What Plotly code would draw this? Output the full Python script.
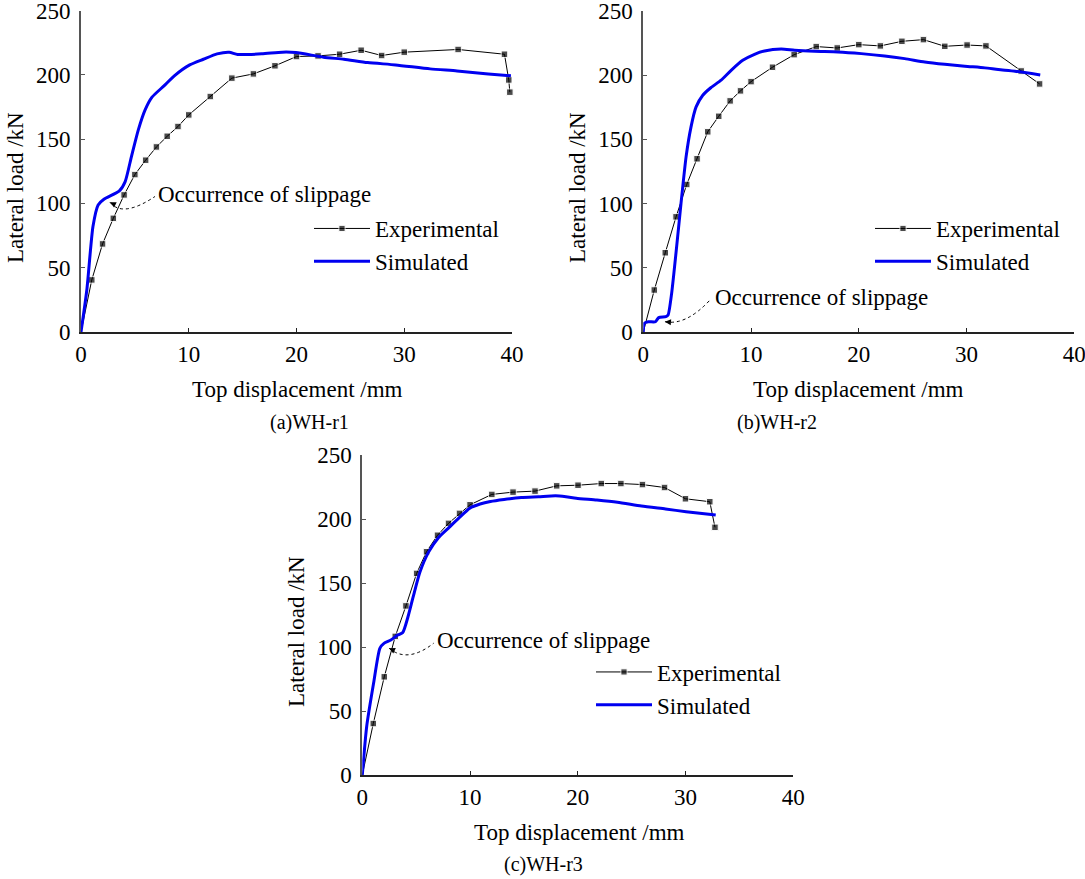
import plotly.graph_objects as go

# ---------------- data ----------------
# (a) WH-r1
a_exp_x = [0, 1.0, 2.0, 3.0, 4.0, 5.0, 6.0, 7.0, 8.0, 9.0, 10.0, 12.0, 14.0, 16.0, 18.0, 20.0, 22.0, 24.0, 26.0, 27.9, 30.0, 35.0, 39.3, 39.7, 39.8]
a_exp_y = [0, 40.5, 68.5, 88.4, 106.6, 122.4, 133.6, 143.9, 152.2, 159.8, 168.8, 183.1, 197.4, 200.7, 207.0, 214.2, 214.7, 216.0, 219.1, 215.0, 217.6, 219.7, 216.0, 196.0, 186.5]
a_sim_x = [0, 0.54, 1.11, 1.59, 2.13, 3.56, 4.1, 4.68, 5.32, 5.95, 6.59, 7.7, 8.66, 10.09, 11.36, 12.63, 13.75, 14.54, 16.77, 18.68, 19.95, 22.5, 24.4, 26.6, 29.2, 32.4, 34.9, 37.8, 39.9]
a_sim_y = [0, 32.7, 82.0, 98.8, 103.2, 109.7, 117.0, 136.4, 157.2, 172.7, 182.6, 191.4, 199.2, 207.7, 212.1, 216.3, 217.6, 215.8, 216.3, 217.6, 217.3, 213.7, 212.1, 209.5, 207.7, 204.6, 203.0, 200.7, 199.2]

# (b) WH-r2
b_exp_x = [0, 1.02, 2.04, 3.04, 4.03, 4.99, 5.98, 7.0, 8.06, 9.02, 10.0, 11.99, 14.0, 16.05, 18.0, 20.0, 22.0, 24.0, 26.0, 27.98, 30.05, 31.8, 35.07, 36.78]
b_exp_y = [0, 32.7, 61.7, 89.7, 114.9, 134.9, 155.9, 168.0, 180.0, 187.8, 195.0, 206.2, 216.0, 222.3, 221.2, 223.8, 222.8, 226.4, 227.7, 222.5, 223.5, 222.8, 203.3, 193.2]
b_sim_x = [0, 0.09, 0.46, 1.12, 1.43, 2.1, 2.3, 2.63, 3.03, 3.5, 3.97, 4.43, 4.9, 5.52, 6.29, 7.22, 8.15, 9.23, 10.32, 11.25, 12.8, 14.04, 15.9, 18.06, 20.23, 22.4, 24.26, 26.12, 27.98, 29.84, 31.7, 32.94, 34.5, 36.84]
b_sim_y = [0, 6.7, 8.0, 8.0, 11.2, 11.9, 13.2, 30.1, 61.2, 100.1, 136.4, 159.8, 175.3, 184.4, 190.4, 196.1, 203.8, 211.6, 216.3, 218.9, 220.4, 219.4, 218.6, 218.1, 216.8, 215.0, 212.9, 210.3, 208.5, 207.0, 205.7, 204.4, 203.1, 200.2]

# (c) WH-r3
c_exp_x = [0, 1.02, 2.04, 3.06, 4.05, 5.04, 5.96, 6.98, 8.0, 9.02, 10.0, 12.02, 13.99, 16.03, 18.04, 20.02, 22.18, 24.0, 26.0, 28.05, 29.99, 32.25, 32.73]
c_exp_y = [0, 40.2, 76.7, 108.3, 132.1, 157.5, 174.4, 187.3, 196.6, 204.4, 211.1, 219.2, 221.0, 221.8, 225.9, 226.4, 227.7, 227.7, 226.9, 224.6, 215.8, 213.5, 193.5]
c_sim_x = [0, 0.41, 1.05, 1.63, 2.01, 2.65, 3.28, 3.76, 4.24, 4.72, 5.35, 6.15, 7.1, 8.06, 9.02, 9.98, 10.93, 11.89, 13.16, 14.76, 16.35, 17.94, 18.9, 19.86, 21.77, 23.68, 25.9, 28.14, 30.05, 32.8]
c_sim_y = [0, 38.1, 71.8, 99.0, 102.8, 105.4, 109.3, 111.4, 123.6, 139.1, 158.5, 174.1, 185.8, 193.5, 201.3, 208.5, 211.7, 213.7, 215.3, 216.8, 217.4, 218.1, 217.4, 216.3, 214.8, 213.0, 210.1, 207.8, 205.7, 203.1]

x_ticks = [0, 10, 20, 30, 40]
y_ticks = [0, 50, 100, 150, 200, 250]
panel_labels = ["(a)WH-r1", "(b)WH-r2", "(c)WH-r3"]
x_title = "Top displacement /mm"
y_title = "Lateral load /kN"
note_text = "Occurrence of slippage"
series_names = ["Experimental", "Simulated"]

# ---------------- layout geometry ----------------
W, H = 1085, 879
FONT = "Liberation Serif, Times New Roman, serif"
FS = 23

def px_x(p):
    return p / W

def px_y(p):
    return 1 - p / H

panels = [
    dict(xd=[px_x(81), px_x(512)], yd=[px_y(332), px_y(10.5)],
         exp=(a_exp_x, a_exp_y), sim=(a_sim_x, a_sim_y),
         legend_xy=(px_x(309), px_y(207)),
         ytitle=(px_x(15), px_y(188)), xtitle=(px_x(297), px_y(390)), lab=(px_x(309), px_y(422)),
         note=dict(tip=(2.69, 100.9), tail=(3.25, 98.6), ctrl=(3.85, 88.5), end=(6.87, 105.4), txt=(6.95, 107.2))),
    dict(xd=[px_x(643.3), px_x(1074.3)], yd=[px_y(332), px_y(11)],
         exp=(b_exp_x, b_exp_y), sim=(b_sim_x, b_sim_y),
         legend_xy=(px_x(870), px_y(207)),
         ytitle=(px_x(577), px_y(188)), xtitle=(px_x(858), px_y(390)), lab=(px_x(777), px_y(422)),
         note=dict(tip=(2.01, 8), tail=(2.6, 7.6), ctrl=(3.96, 4.85), end=(6.19, 24.9), txt=(6.45, 26.5))),
    dict(xd=[px_x(362.3), px_x(793.3)], yd=[px_y(775), px_y(455)],
         exp=(c_exp_x, c_exp_y), sim=(c_sim_x, c_sim_y),
         legend_xy=(px_x(591), px_y(650.5)),
         ytitle=(px_x(296), px_y(632)), xtitle=(px_x(579), px_y(832)), lab=(px_x(543), px_y(864)),
         note=dict(tip=(2.49, 99), tail=(3.0, 97), ctrl=(4.2, 87), end=(6.63, 103), txt=(6.75, 104.9))),
]

fig = go.Figure()
layout = dict(
    width=W, height=H,
    margin=dict(l=0, r=0, t=0, b=0, autoexpand=False),
    paper_bgcolor="white", plot_bgcolor="white",
    font=dict(family=FONT, size=FS, color="black"),
    showlegend=True,
    annotations=[], shapes=[],
)

axis_common = dict(showgrid=False, zeroline=False, showline=True,
                   ticks="inside", ticklen=4, tickwidth=1,
                   tickfont=dict(family=FONT, size=FS, color="black"), mirror=False,
                   automargin=False, ticklabeloverflow="allow")

for i, p in enumerate(panels):
    n = i + 1
    xa = "x" if n == 1 else f"x{n}"
    ya = "y" if n == 1 else f"y{n}"
    leg = "legend" if n == 1 else f"legend{n}"
    ex, ey = p["exp"]
    sx, sy = p["sim"]
    sizes = [0] + [6.5] * (len(ex) - 1)
    fig.add_trace(go.Scatter(x=ex, y=ey, mode="lines+markers", name=series_names[0],
                             line=dict(color="black", width=1),
                             marker=dict(symbol="square", size=sizes, color="black"),
                             xaxis=xa, yaxis=ya, legend=leg, cliponaxis=False))
    fig.add_trace(go.Scatter(x=sx, y=sy, mode="lines", name=series_names[1],
                             line=dict(color="#0000f0", width=3, shape="spline", smoothing=0.6),
                             xaxis=xa, yaxis=ya, legend=leg, cliponaxis=False))
    xk = "xaxis" if n == 1 else f"xaxis{n}"
    yk = "yaxis" if n == 1 else f"yaxis{n}"
    layout[xk] = dict(axis_common, domain=p["xd"], range=[0, 40], tickvals=x_ticks, anchor=ya,
                      linecolor="#222", linewidth=1.5, tickcolor="#222", ticklabelstandoff=1)
    layout[yk] = dict(axis_common, domain=p["yd"], range=[0, 250], tickvals=y_ticks, anchor=xa,
                      linecolor="#555", linewidth=2, tickcolor="#555", ticklabelstandoff=4)
    layout[leg] = dict(x=p["legend_xy"][0], y=p["legend_xy"][1], xanchor="left", yanchor="top",
                       bgcolor="rgba(0,0,0,0)", font=dict(family=FONT, size=FS, color="black"),
                       itemwidth=56, tracegroupgap=0)
    # titles
    layout["annotations"].append(dict(text=y_title, x=p["ytitle"][0], y=p["ytitle"][1], xref="paper", yref="paper",
                                      textangle=-90, showarrow=False, xanchor="center", yanchor="middle"))
    layout["annotations"].append(dict(text=x_title, x=p["xtitle"][0], y=p["xtitle"][1], xref="paper", yref="paper",
                                      showarrow=False, xanchor="center", yanchor="middle"))
    layout["annotations"].append(dict(text=panel_labels[i], x=p["lab"][0], y=p["lab"][1], xref="paper", yref="paper",
                                      showarrow=False, xanchor="center", yanchor="middle", font=dict(size=20)))
    # slippage note
    nt = p["note"]
    path = f"M {nt['tip'][0]},{nt['tip'][1]} Q {nt['ctrl'][0]},{nt['ctrl'][1]} {nt['end'][0]},{nt['end'][1]}"
    layout["shapes"].append(dict(type="path", path=path, xref=xa, yref=ya,
                                 line=dict(color="black", width=1, dash="dot")))
    layout["annotations"].append(dict(text="", x=nt["tip"][0], y=nt["tip"][1], ax=nt["tail"][0], ay=nt["tail"][1],
                                      xref=xa, yref=ya, axref=xa, ayref=ya, showarrow=True,
                                      arrowhead=2, arrowsize=1.2, arrowwidth=1, arrowcolor="black"))
    layout["annotations"].append(dict(text=note_text, x=nt["txt"][0], y=nt["txt"][1], xref=xa, yref=ya,
                                      showarrow=False, xanchor="left", yanchor="middle"))

fig.update_layout(**layout)
fig.write_html("out.html")
